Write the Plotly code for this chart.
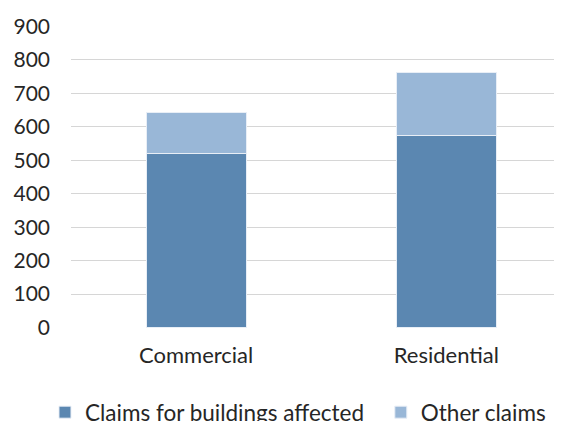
import plotly.graph_objects as go

categories = ["Commercial", "Residential"]
buildings_affected = [521, 574]
other_claims = [122, 187]
y_ticks = [0, 100, 200, 300, 400, 500, 600, 700, 800, 900]

FONT = "Lato"
fig = go.Figure()
fig.add_trace(go.Bar(
    x=categories, y=buildings_affected, name="Claims for buildings affected",
    marker=dict(color="#5B87B1", line=dict(color="#E8EEF6", width=1)), width=0.4,
    legend="legend",
))
fig.add_trace(go.Bar(
    x=categories, y=other_claims, name="Other claims",
    marker=dict(color="#99B7D7", line=dict(color="#E8EEF6", width=1)), width=0.4,
    legend="legend2",
))
leg_common = dict(orientation="h", xanchor="left", y=-0.28, yanchor="middle",
                  font=dict(size=22.5), itemwidth=30, bgcolor="rgba(0,0,0,0)")
fig.update_layout(
    barmode="stack",
    width=554, height=413,
    margin=dict(l=63, r=0, t=18, b=93, autoexpand=False),
    paper_bgcolor="white", plot_bgcolor="white",
    font=dict(family=FONT, size=21, color="#262626"),
    showlegend=True,
    legend=dict(x=-0.053, **leg_common),
    legend2=dict(x=0.631, **leg_common),
    xaxis=dict(type="category", range=[-0.5, 1.462], showgrid=False, showline=False,
               ticks="", ticklabelstandoff=12, zeroline=False,
               tickfont=dict(size=22)),
    yaxis=dict(range=[-1.5, 901.5], tickvals=y_ticks, showgrid=True, gridcolor="#D6D6D6",
               gridwidth=1.2, zeroline=False, showline=False, ticks="",
               ticklabelstandoff=20),
)
fig.write_html("out.html")
